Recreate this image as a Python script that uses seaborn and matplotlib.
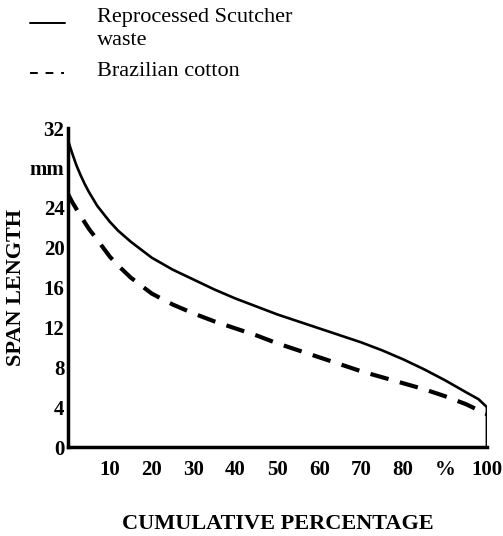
import matplotlib
matplotlib.use('Agg')
import matplotlib.pyplot as plt
from matplotlib.lines import Line2D
import seaborn as sns
import pandas as pd

# cumulative percentage (x) and span length in mm (y)
pct_scutcher = [0, 1, 2, 3, 4, 5, 7, 10, 12, 15, 20, 25, 30, 35, 40, 45, 50,
                55, 60, 65, 70, 75, 80, 85, 90, 95, 98, 100, 100]
span_scutcher = [30.8, 29.5, 28.3, 27.3, 26.4, 25.6, 24.2, 22.6, 21.7, 20.6,
                 19.0, 17.8, 16.8, 15.8, 14.9, 14.1, 13.3, 12.6, 11.9, 11.2,
                 10.5, 9.7, 8.8, 7.8, 6.7, 5.5, 4.8, 4.0, 0]

pct_brazil = [0, 1, 2, 3, 5, 7, 10, 12, 15, 20, 25, 30, 35, 40, 45, 50, 55,
              60, 65, 70, 75, 80, 85, 90, 95, 98, 100]
span_brazil = [25.4, 24.6, 23.9, 23.2, 21.9, 20.8, 19.1, 18.2, 17.0, 15.4,
               14.3, 13.4, 12.6, 11.9, 11.2, 10.4, 9.7, 9.0, 8.3, 7.6, 7.0,
               6.4, 5.8, 5.1, 4.3, 3.7, 3.3]

x_ticks = [10, 20, 30, 40, 50, 60, 70, 80, 90, 100]
x_ticklabels = ['10', '20', '30', '40', '50', '60', '70', '80', '%', '100']
y_ticks = [0, 4, 8, 12, 16, 20, 24, 28, 32]
y_ticklabels = ['0', '4', '8', '12', '16', '20', '24', 'mm', '32']

sns.set_style('white')
plt.rcParams['font.family'] = ['Liberation Serif', 'DejaVu Serif']
plt.rcParams['text.color'] = 'black'
plt.rcParams['axes.labelcolor'] = 'black'
plt.rcParams['xtick.color'] = 'black'
plt.rcParams['ytick.color'] = 'black'

df1 = pd.DataFrame({'pct': pct_scutcher, 'span': span_scutcher})
df2 = pd.DataFrame({'pct': pct_brazil, 'span': span_brazil})

fig = plt.figure(figsize=(5.03, 5.36), dpi=100)
ax = fig.add_axes([0.135, 0.166, 0.833, 0.595])

sns.lineplot(data=df1, x='pct', y='span', color='black', linewidth=1.9,
             sort=False, estimator=None, ax=ax)
sns.lineplot(data=df2, x='pct', y='span', color='black', linewidth=3.0,
             sort=False, estimator=None, ax=ax)
ax.lines[1].set_dashes([4.5, 2.8])

ax.set_xlim(0, 100)
ax.set_ylim(0, 32)
ax.set_xticks(x_ticks)
ax.set_xticklabels(x_ticklabels, fontsize=15, fontweight='bold')
ax.set_yticks(y_ticks)
ax.set_yticklabels(y_ticklabels, fontsize=15, fontweight='bold')
ax.tick_params(axis='both', length=3, width=1.5, direction='inout', pad=1, color='black')
ax.tick_params(axis='x', pad=8)

for s in ['top', 'right']:
    ax.spines[s].set_visible(False)
for s in ['left', 'bottom']:
    ax.spines[s].set_linewidth(2.5)
    ax.spines[s].set_color('black')

ax.set_xlabel('CUMULATIVE PERCENTAGE', fontsize=16, fontweight='bold', labelpad=24)
ax.set_ylabel('SPAN LENGTH', fontsize=16, fontweight='bold', labelpad=3)

# legend keys drawn by hand, as in the printed figure
fig.add_artist(Line2D([0.060, 0.129], [0.957, 0.957], color='black',
                      linewidth=1.4, transform=fig.transFigure))
fig.add_artist(Line2D([0.060, 0.127], [0.864, 0.864], color='black',
                      linewidth=1.4, dashes=[4, 4], transform=fig.transFigure))
fig.text(0.193, 0.986, 'Reprocessed Scutcher\nwaste', fontsize=16,
         family='Liberation Serif', va='top', ha='left', linespacing=1.3)
fig.text(0.193, 0.866, 'Brazilian cotton', fontsize=16,
         family='Liberation Serif', va='center', ha='left')

plt.savefig('out.png', dpi=100)
